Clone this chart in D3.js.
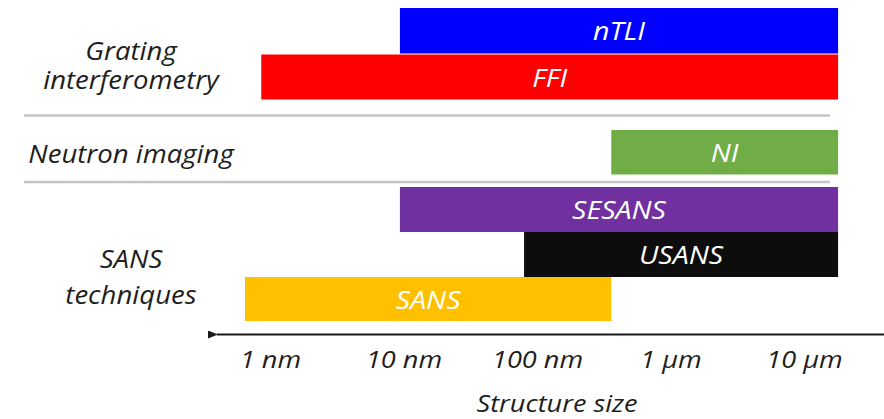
<!DOCTYPE html>
<html>
<head>
<meta charset="utf-8">
<script src="https://cdn.jsdelivr.net/npm/d3@7"></script>
<style>
  html, body { margin: 0; padding: 0; background: #fff; }
  svg { display: block; }
  text { font-family: "Open Sans", Lato, sans-serif; font-style: italic; }
</style>
</head>
<body>
<svg id="chart" width="884" height="419"></svg>
<script>
// Technique names (one bar each) and their structure-size ranges in nm
const techniques = ["nTLI", "FFI", "NI", "SESANS", "USANS", "SANS"];
const rangeMin = [9.4, 0.86, 360, 9.4, 80, 0.65];
const rangeMax = [18000, 18000, 18000, 18000, 18000, 360];
const barColors = ["#0000ff", "#ff0000", "#70ad47", "#7030a0", "#0d0d0d", "#ffc000"];

// Axis ticks (nm) and their labels
const tickValues = [1, 10, 100, 1000, 10000];
const tickLabels = ["1 nm", "10 nm", "100 nm", "1 µm", "10 µm"];

// Group captions on the left
const groupLines = [["Grating", "interferometry"], ["Neutron imaging"], ["SANS", "techniques"]];

const svg = d3.select("#chart");

// Log scale of structure size
const x = d3.scaleLog().domain([1, 10000]).range([270, 804]);

// Vertical layout of the rows (grouped with gaps between the groups)
const rowTop = { nTLI: 8, FFI: 54.5, NI: 130, SESANS: 187, USANS: 232, SANS: 277 };
const rowH = { nTLI: 45.5, FFI: 45, NI: 44.5, SESANS: 45, USANS: 45, SANS: 44 };

// Wide italic lettering: glyphs are stretched a little horizontally
const placeText = (sel, tx, ty, sx) =>
  sel.attr("transform", `translate(${tx},${ty}) scale(${sx},1)`);

const rows = techniques.map((t, i) => ({
  name: t, lo: rangeMin[i], hi: rangeMax[i], color: barColors[i]
}));

const bars = svg.append("g").selectAll("g").data(rows).join("g");
bars.append("rect")
  .attr("x", d => x(d.lo))
  .attr("y", d => rowTop[d.name])
  .attr("width", d => x(d.hi) - x(d.lo))
  .attr("height", d => rowH[d.name])
  .attr("fill", d => d.color);
bars.append("text")
  .attr("text-anchor", "middle")
  .attr("fill", "#fff")
  .attr("font-size", 25)
  .attr("transform", d =>
    `translate(${(x(d.lo) + x(d.hi)) / 2},${rowTop[d.name] + rowH[d.name] / 2 + 9.5}) scale(1.14,1)`)
  .text(d => d.name);

// Grey separators between groups
svg.append("g").selectAll("line").data([115.5, 182]).join("line")
  .attr("x1", 24).attr("x2", 830)
  .attr("y1", d => d).attr("y2", d => d)
  .attr("stroke", "#c4c4c4").attr("stroke-width", 2.5);

// Group captions
const captionY = [[60, 89], [163], [268, 304]];
const cap = svg.append("g").attr("fill", "#1e1e1e").attr("font-size", 26).attr("text-anchor", "middle");
groupLines.forEach((lines, gi) => {
  lines.forEach((ln, li) => {
    placeText(cap.append("text").text(ln), 131, captionY[gi][li], 1.06);
  });
});

// Axis arrow pointing left
svg.append("defs").append("marker")
  .attr("id", "head").attr("viewBox", "0 0 10 8")
  .attr("refX", 1).attr("refY", 4)
  .attr("markerWidth", 5).attr("markerHeight", 4)
  .attr("orient", "auto-start-reverse")
  .append("path").attr("d", "M0,4 L10,0 L10,8 Z").attr("fill", "#1a1a1a");
svg.append("line")
  .attr("x1", 884).attr("x2", 217)
  .attr("y1", 334.5).attr("y2", 334.5)
  .attr("stroke", "#1a1a1a").attr("stroke-width", 2)
  .attr("marker-end", "url(#head)");

// Tick labels via a D3 axis with the line and ticks hidden
const axis = d3.axisBottom(x)
  .tickValues(tickValues)
  .tickFormat((d, i) => tickLabels[i])
  .tickSize(0).tickPadding(0);
const ax = svg.append("g").attr("transform", "translate(0,350)").call(axis);
ax.select(".domain").remove();
ax.selectAll("text")
  .attr("font-size", 24)
  .attr("fill", "#1e1e1e")
  .attr("dy", null)
  .attr("y", 18)
  .attr("transform", "scale(1.13,1)")
  .style("font-family", "'Open Sans', Lato, sans-serif")
  .style("font-style", "italic");

// Axis title
placeText(
  svg.append("text")
    .attr("text-anchor", "middle")
    .attr("font-size", 24)
    .attr("fill", "#1e1e1e")
    .text("Structure size"),
  557, 412, 1.13);
</script>
</body>
</html>
